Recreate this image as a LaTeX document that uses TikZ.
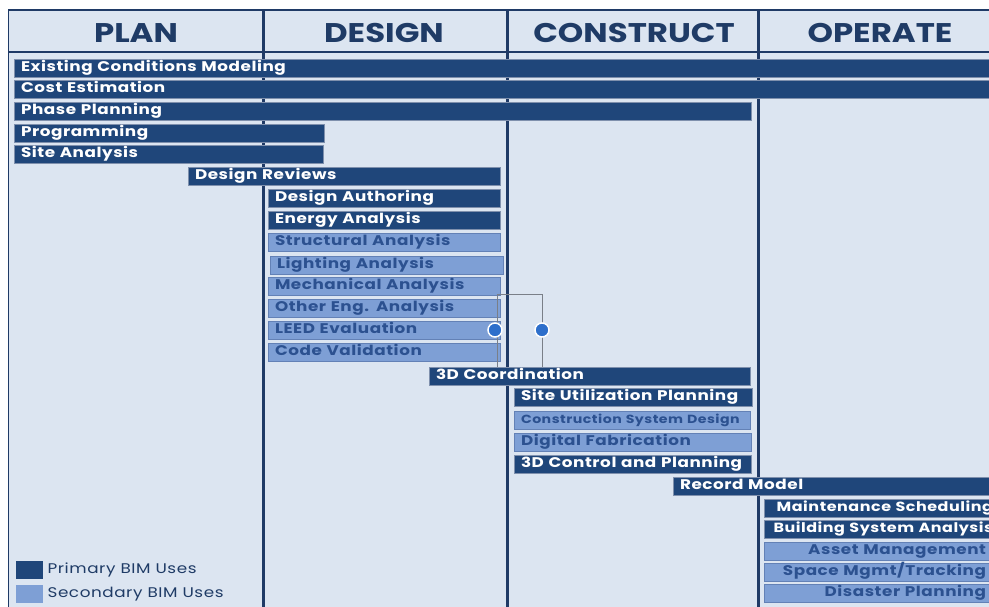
\documentclass[tikz,border=0pt]{standalone}
\usepackage{fontspec}
\setmainfont{Poppins}
\newfontfamily\barfont{Poppins}[FakeStretch=1.2, LetterSpace=4]
\newfontfamily\hdrfont{Poppins}[FakeStretch=1.2]
\definecolor{bgc}{HTML}{DCE5F1}
\definecolor{hdrtext}{HTML}{1F3B66}
\definecolor{darkc}{HTML}{1F467A}
\definecolor{darkedge}{HTML}{7F90AD}
\definecolor{lightc}{HTML}{7E9FD5}
\definecolor{lightedge}{HTML}{6381B6}
\definecolor{lighttext}{HTML}{2C5190}
\definecolor{colline}{HTML}{1F3A66}
\definecolor{handlec}{HTML}{2E6FCB}
\definecolor{brk}{HTML}{7A7F88}
\newcommand\bimbar[6]{%
  \pgfmathsetlengthmacro\bimbw{(#5-#3)*1pt}%
  \pgfmathsetlengthmacro\bimtw{(#5-#3)*1pt-14pt}%
  \node[#2, anchor=north west, minimum width=\bimbw, minimum height=18pt, text width=\bimtw] (#1) at (#3,#4) {#6};}
\newcommand\rtext[2]{\makebox[\linewidth][r]{#1\hspace*{#2}}}
\begin{document}
\begin{tikzpicture}[x=1pt,y=-1pt,
  barbase/.style={inner xsep=7pt, inner ysep=0pt, outer sep=0pt, line width=0.7pt, text height=10pt, text depth=2.5pt, align=left, font=\barfont\bfseries\fontsize{14}{14}\selectfont},
  darkbar/.style={barbase, fill=darkc, draw=darkedge, text=white},
  lightbar/.style={barbase, fill=lightc, draw=lightedge, text=lighttext},
  smalltext/.style={font=\barfont\bfseries\fontsize{13.3}{14}\selectfont},
  hdr/.style={text=hdrtext, font=\hdrfont\bfseries\fontsize{27}{28}\selectfont, anchor=base, inner sep=0pt},
  colrule/.style={draw=colline, line width=3pt},
  bracket/.style={draw=brk, line width=0.8pt},
  handle/.style={circle, fill=handlec, draw=white, line width=1.5pt, minimum size=14pt, inner sep=0pt},
  legbox/.style={fill=#1, draw=none, minimum width=27pt, minimum height=18pt, anchor=north west, inner sep=0pt},
  legtext/.style={text=hdrtext, font=\barfont\fontsize{14}{14}\selectfont, anchor=west, inner sep=0pt}
]
\useasboundingbox (0,0) rectangle (989,607);
\fill[white] (0,0) rectangle (989,607);
\fill[bgc] (8,10) rectangle (1030,620);
% frame and header lines
\draw[colline, line width=1.5pt] (8.5,620) -- (8.5,10) -- (1030,10);
\draw[colline, line width=2pt] (8,52) -- (1030,52);
\draw[colrule] (263,10) -- (263,620);
\draw[colrule] (507,10) -- (507,620);
\draw[colrule] (758,10) -- (758,620);
% headers
\node[hdr] (plan) at (136,43) {PLAN};
\node[hdr] (design) at (384,43) {DESIGN};
\node[hdr] (construct) at (634,43) {CONSTRUCT};
\node[hdr] (operate) at (880,43) {OPERATE};
% bars
\bimbar{ecm}{darkbar}{14}{59}{1020}{Existing Conditions Modeling}
\bimbar{cost}{darkbar}{14}{80}{1020}{Cost Estimation}
\bimbar{phase}{darkbar}{14}{102}{751}{Phase Planning}
\bimbar{prog}{darkbar}{14}{124}{324}{Programming}
\bimbar{site}{darkbar}{14}{145}{323}{Site Analysis}
\bimbar{dreview}{darkbar}{188}{167}{500}{Design Reviews}
\bimbar{dauth}{darkbar}{268}{189}{500}{Design Authoring}
\bimbar{energy}{darkbar}{268}{211}{500}{Energy Analysis}
\bimbar{struct}{lightbar}{268}{233}{500}{Structural Analysis}
\bimbar{light}{lightbar}{270}{256}{503}{Lighting Analysis}
\bimbar{mech}{lightbar}{268}{277}{500}{Mechanical Analysis}
\bimbar{other}{lightbar}{268}{299}{500}{Other Eng. Analysis}
\bimbar{leed}{lightbar}{268}{321}{500}{LEED Evaluation}
\bimbar{code}{lightbar}{268}{343}{500}{Code Validation}
\bimbar{coord}{darkbar}{429}{367}{750}{3D Coordination}
\bimbar{siteu}{darkbar}{514}{388}{752}{Site Utilization Planning}
\bimbar{csd}{lightbar,font=\barfont\bfseries\fontsize{11.8}{12}\selectfont}{514}{411}{750}{Construction System Design}
\bimbar{dfab}{lightbar}{514}{433}{751}{Digital Fabrication}
\bimbar{ctrl}{darkbar}{514}{455}{751}{3D Control and Planning}
\bimbar{record}{darkbar}{673}{477}{1020}{Record Model}
\bimbar{maint}{darkbar,smalltext}{764}{499}{1020}{\rtext{Maintenance Scheduling}{20pt}}
\bimbar{bsa}{darkbar,smalltext}{764}{520}{1020}{\rtext{Building System Analysis}{20pt}}
\bimbar{asset}{lightbar}{764}{542}{1020}{\rtext{Asset Management}{27pt}}
\bimbar{space}{lightbar}{764}{563}{1020}{\rtext{Space Mgmt/Tracking}{27pt}}
\bimbar{disaster}{lightbar}{764}{584}{1020}{\rtext{Disaster Planning}{27pt}}
% bracket and handles
\coordinate (bl) at (497,294);
\coordinate (br) at (542,294);
\draw[bracket] (bl |- coord.north) -- (bl) -- (br) -- (br |- coord.north);
\node[handle] (h1) at (495,330) {};
\node[handle] (h2) at (542,330) {};
% legend
\node[legbox=darkc] (lp) at (16,561) {};
\node[legbox=lightc] (ls) at (16,585) {};
\node[legtext] (lpt) at ([xshift=4pt]lp.east) {Primary BIM Uses};
\node[legtext] (lst) at ([xshift=4pt]ls.east) {Secondary BIM Uses};
\end{tikzpicture}
\end{document}
